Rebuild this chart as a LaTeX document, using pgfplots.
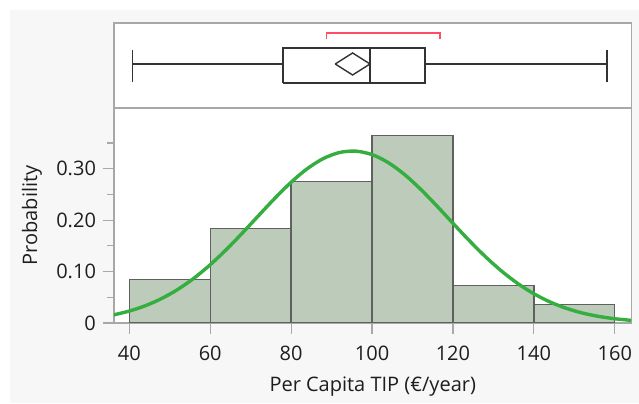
\documentclass[border=0pt]{standalone}
\usepackage{pgfplots}
\pgfplotsset{compat=1.18}
\usepackage{fontspec}
\setmainfont{Open Sans}
\definecolor{bggray}{HTML}{F7F7F7}
\definecolor{framegray}{HTML}{A8A8A8}
\definecolor{barfill}{HTML}{BCCBBA}
\definecolor{baredge}{HTML}{606060}
\definecolor{fitgreen}{HTML}{33AE3F}
\definecolor{boxline}{HTML}{333333}
\definecolor{bracketred}{HTML}{FF4D66}
\definecolor{txt}{HTML}{1E1E1E}
\begin{document}
\begin{tikzpicture}
\fill[white] (0pt,0pt) rectangle (319.5pt,201.5pt);
\fill[bggray] (5pt,0pt) rectangle (319.5pt,196.5pt);
% box plot panel
\begin{axis}[
  at={(57pt,147.5pt)}, anchor=south west,
  scale only axis, width=258.75pt, height=42.5pt,
  xmin=36.22, xmax=164.13, ymin=0, ymax=85,
  xtick=\empty, ytick=\empty,
  axis line style={framegray, line width=0.6pt},
  axis background/.style={fill=white},
  clip=false,
]
\addplot[boxline, line width=0.9pt] coordinates {(77.9,25) (113.1,25) (113.1,60) (77.9,60) (77.9,25)};
\addplot[boxline, line width=0.9pt] coordinates {(99.5,25) (99.5,60)};
\addplot[boxline, line width=0.9pt] coordinates {(40.8,44) (77.9,44)};
\addplot[boxline, line width=0.9pt] coordinates {(113.1,44) (158.1,44)};
\addplot[boxline, line width=0.9pt] coordinates {(40.8,26) (40.8,58)};
\addplot[boxline, line width=0.9pt] coordinates {(158.1,26) (158.1,58)};
\addplot[boxline, line width=0.7pt] coordinates {(90.9,44) (95.2,55) (99.5,44) (95.2,33) (90.9,44)};
\addplot[bracketred, line width=0.7pt] coordinates {(88.8,69) (88.8,75) (116.8,75) (116.8,69)};
\end{axis}
% histogram panel
\begin{axis}[
  at={(57pt,40pt)}, anchor=south west,
  scale only axis, width=258.75pt, height=107.5pt,
  xmin=36.22, xmax=164.13, ymin=0, ymax=0.4183,
  xtick={40,60,80,100,120,140,160},
  ytick={0,0.1,0.2,0.3},
  yticklabels={0,0.10,0.20,0.30},
  minor ytick={0.05,0.15,0.25,0.35},
  xtick pos=bottom, ytick pos=left,
  tick align=outside,
  major tick length=5.5pt, minor tick length=3.5pt,
  tick style={framegray, line width=0.6pt},
  axis line style={framegray, line width=0.6pt},
  axis background/.style={fill=white},
  /pgf/number format/assume math mode=true,
  ticklabel style={font=\fontsize{10}{12}\selectfont, text=txt},
  xticklabel style={yshift=-2.5pt},
  label style={font=\fontsize{10}{12}\selectfont, text=txt},
  xlabel={Per Capita TIP (€/year)},
  ylabel={Probability},
  xlabel style={at={(axis description cs:0.5,-0.298)}, anchor=center},
  ylabel style={at={(axis description cs:-0.1585,0.5)}, anchor=center},
]
\addplot[ybar interval, fill=barfill, draw=baredge, line width=0.7pt] coordinates {
(40,0.0850) (60,0.1836) (80,0.2757) (100,0.3650) (120,0.0733) (140,0.0358) (160,0.0358)};
\addplot[fitgreen, line width=1.7pt, smooth] coordinates {
(36,0.01554) (40,0.02320) (44,0.03370) (48,0.04760) (52,0.06536) (56,0.08727)
(60,0.11330) (64,0.14299) (68,0.17544) (72,0.20932) (76,0.24280) (80,0.27384)
(84,0.30026) (88,0.32010) (92,0.33179) (96,0.33436) (100,0.32761) (104,0.31210)
(108,0.28906) (112,0.26031) (116,0.22792) (120,0.19401) (124,0.16057) (128,0.12920)
(132,0.10109) (136,0.07690) (140,0.05688) (144,0.04088) (148,0.02859) (152,0.01943)
(156,0.01284) (160,0.00825) (164,0.00516)};
\end{axis}
\end{tikzpicture}
\end{document}
